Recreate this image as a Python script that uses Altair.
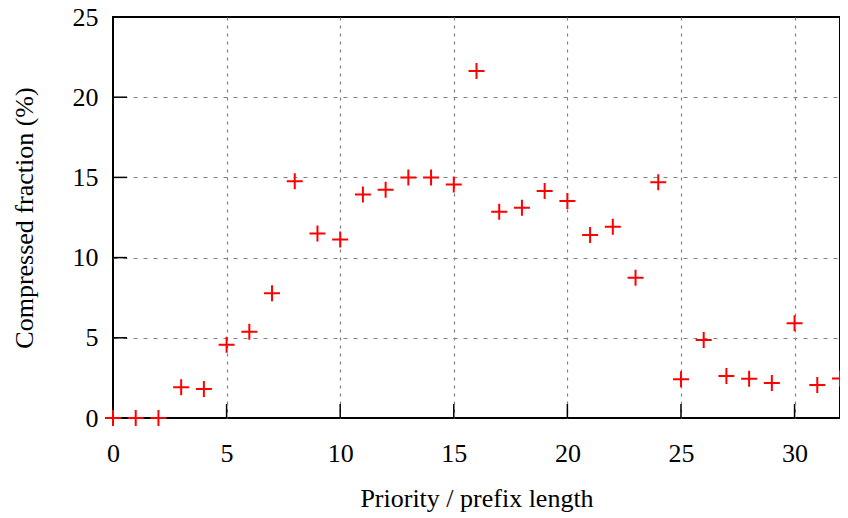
import altair as alt
import pandas as pd

prefix_length = list(range(0, 33))
compressed_pct = [0.0, 0.0, 0.0, 1.92, 1.81, 4.56, 5.38, 7.77, 14.76, 11.5, 11.13,
                  13.94, 14.23, 15.0, 15.0, 14.55, 21.63, 12.86, 13.11, 14.15, 13.53,
                  11.41, 11.93, 8.75, 14.69, 2.41, 4.86, 2.62, 2.45, 2.18, 5.9, 2.06, 2.47]
x_ticks = [0, 5, 10, 15, 20, 25, 30]
y_ticks = [0, 5, 10, 15, 20, 25]
x_inner_ticks = [5, 10, 15, 20, 25, 30]
y_inner_ticks = [5, 10, 15, 20]

W, H = 727, 401
FONT = "Liberation Serif"

df = pd.DataFrame({"x": prefix_length, "y": compressed_pct})
xt = pd.DataFrame({"t": x_inner_ticks})
yt = pd.DataFrame({"t": y_inner_ticks})

xscale = alt.Scale(domain=[0, 32], nice=False, zero=False)
yscale = alt.Scale(domain=[0, 25], nice=False, zero=False)

xaxis = alt.Axis(values=x_ticks, title="Priority / prefix length", domain=False,
                 ticks=False, tickSize=0, labelPadding=22, labelFlush=False,
                 labelOverlap=False, labelFontSize=26, labelFont=FONT, labelColor="black",
                 titleFont=FONT, titleFontSize=26, titleFontWeight="normal", titleColor="black",
                 titleX=W / 2, titleY=88, titleBaseline="alphabetic", titleAlign="center",
                 grid=True, gridColor="#808080", gridDash=[3, 5], gridWidth=1.2,
                 gridOpacity={"condition": {"test": "datum.value === 0 || datum.value === 32", "value": 0}, "value": 1})
yaxis = alt.Axis(values=y_ticks, title="Compressed fraction (%)", domain=False,
                 ticks=False, tickSize=0, labelPadding=15, labelFlush=False,
                 labelOverlap=False, labelFontSize=26, labelFont=FONT, labelColor="black",
                 titleFont=FONT, titleFontSize=26, titleFontWeight="normal", titleColor="black",
                 titleX=-89, titleY=H / 2, titleAngle=-90, titleBaseline="middle", titleAlign="center",
                 grid=True, gridColor="#808080", gridDash=[4, 6], gridWidth=1.2,
                 gridOpacity={"condition": {"test": "datum.value === 0 || datum.value === 25", "value": 0}, "value": 1})

points = alt.Chart(df).mark_point(
    shape="M-1,0L1,0M0,-1L0,1", size=256, color="#ff0000", filled=False,
    strokeWidth=2, opacity=1, clip=False
).encode(
    x=alt.X("x:Q", scale=xscale, axis=xaxis),
    y=alt.Y("y:Q", scale=yscale, axis=yaxis),
)

xtick_rules = alt.Chart(xt).mark_rule(color="black", strokeWidth=1.5).encode(
    x=alt.X("t:Q", scale=xscale, axis=xaxis),
    y=alt.value(H),
    y2=alt.value(H - 14),
)

ytick_rules = alt.Chart(yt).mark_rule(color="black", strokeWidth=1.5).encode(
    y=alt.Y("t:Q", scale=yscale, axis=yaxis),
    x=alt.value(0),
    x2=alt.value(14),
)

chart = alt.layer(xtick_rules, ytick_rules, points).properties(
    width=W, height=H,
    background="white",
    autosize=alt.AutoSizeParams(type="none"),
    padding={"left": 105, "top": 9, "right": 0, "bottom": 98},
).configure_view(stroke="black", strokeWidth=2)

chart.save("out.html", embed_options={"renderer": "svg", "actions": False})
